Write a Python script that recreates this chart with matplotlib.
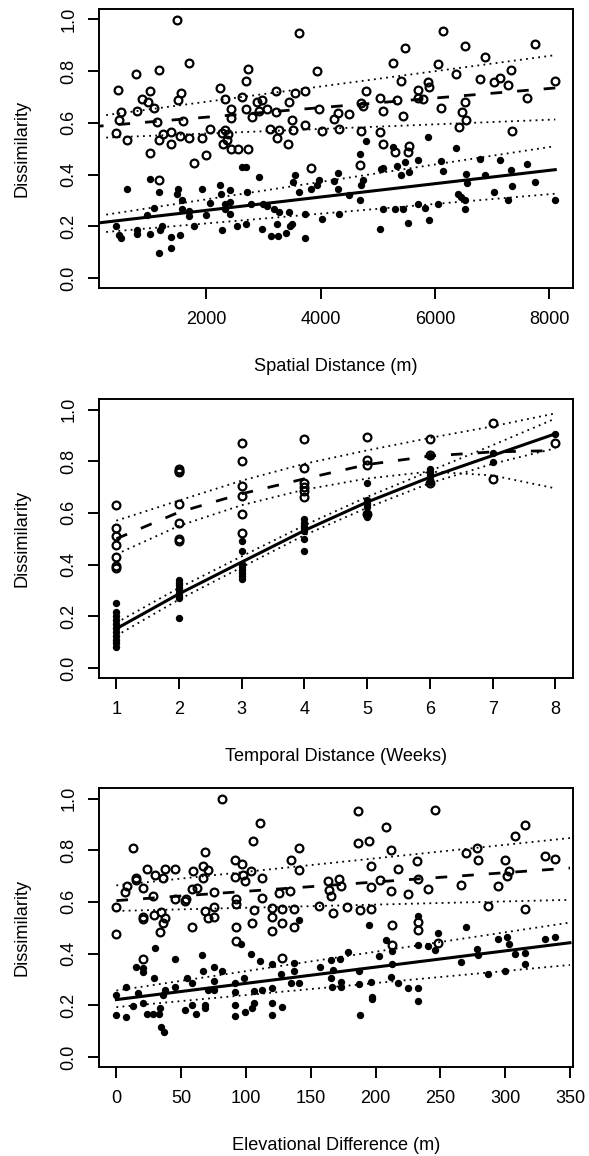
import numpy as np
import matplotlib.pyplot as plt

plt.rcParams['font.family'] = ['Liberation Sans', 'DejaVu Sans']
plt.rcParams['font.size'] = 13.1

# --- spatial distance panel ---
sp_open_x = [462, 508, 482, 430, 613, 791, 778, 876, 975, 1008, 1008, 1086, 1172, 1172, 1172,
             1139, 1244, 1382, 1389, 1494, 1507, 1560, 1547, 1593, 1698, 1698, 1790, 1921, 2000,
             2072, 2243, 2269, 2322, 2322, 2289, 2388, 2355, 2440, 2440, 2427, 2552, 2618, 2703,
             2729, 2690, 2729, 2795, 2887, 2973, 2914, 3071, 3111, 3222, 3222, 3242, 3281, 3426,
             3439, 3518, 3505, 3551, 3630, 3729, 3729, 3932, 3965, 4031, 3840, 4228, 4307, 4327,
             4491, 4714, 4714, 4734, 4688, 4800, 5043, 5043, 5095, 5095, 5260, 5293, 5339, 5411,
             5450, 5470, 5542, 5522, 5700, 5707, 5799, 5884, 5904, 6048, 6134, 6101, 6377, 6423,
             6468, 6534, 6534, 6547, 6791, 6870, 7034, 7133, 7284, 7330, 7350, 7606, 7744, 8105]
sp_open_y = [0.729, 0.643, 0.613, 0.561, 0.533, 0.646, 0.788, 0.693, 0.679, 0.724, 0.484, 0.658,
             0.806, 0.378, 0.533, 0.604, 0.556, 0.565, 0.517, 0.997, 0.690, 0.714, 0.548, 0.608,
             0.832, 0.542, 0.446, 0.542, 0.475, 0.578, 0.733, 0.561, 0.694, 0.572, 0.517, 0.556,
             0.535, 0.617, 0.655, 0.498, 0.498, 0.701, 0.763, 0.808, 0.653, 0.498, 0.621, 0.681,
             0.690, 0.646, 0.653, 0.578, 0.723, 0.643, 0.543, 0.572, 0.517, 0.681, 0.574, 0.613,
             0.714, 0.948, 0.724, 0.590, 0.800, 0.653, 0.569, 0.427, 0.614, 0.640, 0.578, 0.636,
             0.569, 0.675, 0.665, 0.436, 0.724, 0.563, 0.698, 0.645, 0.520, 0.832, 0.488, 0.688,
             0.761, 0.627, 0.888, 0.511, 0.488, 0.726, 0.698, 0.694, 0.759, 0.737, 0.826, 0.955,
             0.659, 0.788, 0.585, 0.643, 0.897, 0.681, 0.610, 0.768, 0.853, 0.759, 0.772, 0.746,
             0.806, 0.569, 0.698, 0.905, 0.761]
sp_fill_x = [430, 482, 508, 613, 791, 791, 968, 1008, 1021, 1086, 1172, 1172, 1185, 1231, 1382,
             1389, 1494, 1507, 1540, 1573, 1573, 1698, 1698, 1790, 1921, 2000, 2072, 2237, 2269,
             2256, 2322, 2335, 2414, 2414, 2414, 2545, 2618, 2703, 2716, 2697, 2782, 2927, 2973,
             2992, 3071, 3124, 3190, 3242, 3255, 3268, 3387, 3439, 3466, 3505, 3518, 3551, 3630,
             3729, 3729, 3840, 3945, 3978, 4031, 4228, 4307, 4307, 4327, 4491, 4688, 4688, 4714,
             4734, 4800, 5043, 5062, 5095, 5095, 5260, 5293, 5339, 5411, 5450, 5470, 5522, 5542,
             5700, 5707, 5818, 5884, 5904, 6048, 6101, 6134, 6377, 6410, 6462, 6534, 6547, 6534,
             6560, 6791, 6870, 7034, 7133, 7284, 7330, 7350, 7606, 7744, 8105]
sp_fill_y = [0.200, 0.165, 0.156, 0.346, 0.187, 0.172, 0.243, 0.172, 0.382, 0.272, 0.333, 0.097,
             0.187, 0.200, 0.159, 0.114, 0.326, 0.346, 0.165, 0.303, 0.268, 0.259, 0.239, 0.200,
             0.346, 0.243, 0.290, 0.359, 0.185, 0.326, 0.285, 0.268, 0.342, 0.294, 0.249, 0.200,
             0.430, 0.430, 0.333, 0.208, 0.288, 0.391, 0.191, 0.288, 0.277, 0.161, 0.268, 0.210,
             0.161, 0.255, 0.174, 0.255, 0.200, 0.208, 0.372, 0.397, 0.333, 0.156, 0.249, 0.346,
             0.359, 0.378, 0.230, 0.375, 0.406, 0.346, 0.249, 0.320, 0.479, 0.301, 0.359, 0.378,
             0.530, 0.191, 0.421, 0.265, 0.427, 0.507, 0.265, 0.432, 0.397, 0.265, 0.449, 0.213,
             0.410, 0.288, 0.458, 0.272, 0.546, 0.223, 0.285, 0.453, 0.413, 0.501, 0.326, 0.314,
             0.303, 0.401, 0.268, 0.368, 0.462, 0.397, 0.333, 0.455, 0.303, 0.419, 0.355, 0.439,
             0.372, 0.303]
sp_line_x = [0, 8105]
sp_open_fit = [0.585, 0.735]
sp_fill_fit = [0.210, 0.419]
sp_band_x = [250, 8105]
sp_open_hi = [0.630, 0.862]
sp_open_lo = [0.543, 0.613]
sp_fill_hi = [0.245, 0.510]
sp_fill_lo = [0.178, 0.326]

# --- temporal distance panel ---
tm_open_x = [1] * 7 + [2] * 7 + [3] * 6 + [4] * 6 + [5] * 4 + [6] * 3 + [7] * 2 + [8]
tm_open_y = [0.629, 0.543, 0.509, 0.477, 0.429, 0.394, 0.388,
             0.771, 0.764, 0.758, 0.636, 0.560, 0.500, 0.492,
             0.870, 0.799, 0.706, 0.667, 0.597, 0.523,
             0.887, 0.774, 0.716, 0.700, 0.684, 0.661,
             0.893, 0.803, 0.786, 0.597,
             0.887, 0.825, 0.715,
             0.948, 0.732,
             0.870]
tm_fill_x = [1] * 11 + [2] * 9 + [3] * 8 + [4] * 7 + [5] * 7 + [6] * 6 + [7] * 2 + [8]
tm_fill_y = [0.251, 0.215, 0.200, 0.185, 0.170, 0.155, 0.140, 0.125, 0.110, 0.095, 0.083,
             0.342, 0.330, 0.320, 0.310, 0.300, 0.290, 0.280, 0.272, 0.195,
             0.491, 0.452, 0.403, 0.390, 0.378, 0.368, 0.357, 0.346,
             0.575, 0.560, 0.550, 0.540, 0.530, 0.500, 0.451,
             0.715, 0.648, 0.640, 0.630, 0.622, 0.600, 0.584,
             0.822, 0.770, 0.760, 0.745, 0.730, 0.720,
             0.830, 0.795,
             0.906]
tm_line_x = [1, 2, 3, 4, 5, 6, 7, 8]
tm_open_fit = [0.500, 0.603, 0.674, 0.732, 0.787, 0.820, 0.836, 0.841]
tm_fill_fit = [0.152, 0.287, 0.410, 0.532, 0.642, 0.738, 0.822, 0.906]
tm_open_hi = [0.570, 0.648, 0.725, 0.790, 0.842, 0.890, 0.935, 0.985]
tm_open_lo = [0.440, 0.550, 0.630, 0.690, 0.733, 0.760, 0.745, 0.695]
tm_fill_hi = [0.175, 0.310, 0.432, 0.552, 0.662, 0.762, 0.862, 0.965]
tm_fill_lo = [0.125, 0.265, 0.390, 0.514, 0.620, 0.715, 0.790, 0.850]

# --- elevational difference panel ---
el_open_x = [0, 0, 6.7, 8.1, 13, 15, 15.4, 20.3, 20.3, 20.9, 20.9, 24, 28, 29, 30, 33.3, 34.8,
             35.7, 36.2, 37.7, 37.7, 45, 45, 52.8, 54, 58.6, 58.6, 59.4, 62.3, 66.7, 66.7, 68.4,
             68.7, 71, 71, 75.4, 75.4, 75.4, 81.8, 91.3, 91.3, 92.2, 92.2, 92.2, 92.2, 97, 98,
             99, 103.8, 105.8, 105, 106.4, 111, 112.2, 112.2, 120.3, 120.3, 120.3, 125.5, 127.6,
             128, 127.6, 134, 134.8, 137, 137, 140.6, 141, 156.6, 163, 164.4, 165.8, 167.3, 172,
             173.4, 178.3, 186.4, 186.4, 187.9, 195, 196.3, 196.3, 196.6, 203.5, 207.9, 211.7,
             211.7, 212.5, 212.5, 217.5, 225.3, 232, 232.5, 232.5, 232.5, 240.6, 245.6, 248, 266,
             269.6, 278.3, 279, 286.5, 294.3, 299.5, 301.5, 303, 307.3, 315.2, 315.5, 331, 338.6]
el_open_y = [0.580, 0.476, 0.640, 0.662, 0.809, 0.692, 0.684, 0.653, 0.379, 0.543, 0.533, 0.728,
             0.624, 0.550, 0.705, 0.485, 0.559, 0.692, 0.517, 0.537, 0.727, 0.727, 0.611, 0.602,
             0.611, 0.503, 0.649, 0.718, 0.653, 0.692, 0.737, 0.563, 0.792, 0.724, 0.539, 0.640,
             0.582, 0.543, 1.000, 0.763, 0.698, 0.611, 0.592, 0.502, 0.449, 0.748, 0.705, 0.679,
             0.718, 0.834, 0.520, 0.567, 0.906, 0.692, 0.617, 0.576, 0.543, 0.489, 0.636, 0.517,
             0.572, 0.384, 0.643, 0.763, 0.572, 0.501, 0.809, 0.724, 0.586, 0.679, 0.647, 0.621,
             0.556, 0.688, 0.662, 0.582, 0.951, 0.828, 0.569, 0.834, 0.740, 0.656, 0.573, 0.683,
             0.890, 0.802, 0.643, 0.511, 0.433, 0.728, 0.630, 0.757, 0.688, 0.524, 0.492, 0.649,
             0.957, 0.440, 0.666, 0.789, 0.809, 0.763, 0.586, 0.660, 0.761, 0.699, 0.718, 0.856,
             0.899, 0.572, 0.776, 0.766]
el_fill_x = [0, 0, 7.2, 7.2, 13, 15, 16.8, 20.3, 20.9, 20.9, 24, 28.4, 29, 30, 32.5, 34, 34.8,
             37, 36.2, 37.7, 45, 45, 53, 54.5, 58.6, 58.6, 61.5, 66, 66.7, 68.4, 68.7, 70.5, 75.4,
             75.4, 75.4, 81.8, 91.3, 91.3, 91.9, 91.9, 96.5, 98.6, 99, 103.8, 105, 106.4, 106.4,
             110.8, 112.2, 120.3, 120.3, 120.3, 120.3, 127, 127.6, 137, 137, 134.8, 141, 141,
             157.4, 165.3, 165.8, 166.1, 167.3, 172.5, 173.4, 173.4, 179, 187.3, 187.3, 188,
             194.8, 196.6, 197, 197, 203, 207.9, 211.7, 212.5, 212.5, 217.5, 225.3, 232.5, 232.5,
             232.5, 232.5, 240.6, 245.6, 248, 266, 269.6, 278.3, 279, 286.5, 294.3, 299.5, 301.5,
             303, 307.3, 315.2, 315.5, 331, 338.6]
el_fill_y = [0.239, 0.162, 0.272, 0.155, 0.198, 0.347, 0.246, 0.343, 0.330, 0.210, 0.168, 0.166,
             0.304, 0.420, 0.168, 0.191, 0.116, 0.097, 0.239, 0.259, 0.378, 0.272, 0.181, 0.304,
             0.287, 0.201, 0.168, 0.395, 0.334, 0.201, 0.188, 0.259, 0.349, 0.295, 0.259, 0.334,
             0.287, 0.252, 0.201, 0.158, 0.436, 0.304, 0.175, 0.397, 0.188, 0.210, 0.255, 0.373,
             0.261, 0.360, 0.265, 0.210, 0.162, 0.321, 0.194, 0.362, 0.334, 0.287, 0.285, 0.530,
             0.347, 0.375, 0.304, 0.272, 0.336, 0.378, 0.291, 0.272, 0.407, 0.334, 0.282, 0.162,
             0.511, 0.291, 0.233, 0.223, 0.391, 0.453, 0.310, 0.411, 0.358, 0.287, 0.268, 0.546,
             0.433, 0.265, 0.217, 0.429, 0.414, 0.479, 0.369, 0.501, 0.417, 0.395, 0.323, 0.455,
             0.334, 0.466, 0.437, 0.398, 0.404, 0.358, 0.455, 0.463]
el_line_x = [0, 350]
el_open_fit = [0.605, 0.731]
el_fill_fit = [0.222, 0.442]
el_open_hi = [0.664, 0.847]
el_open_lo = [0.565, 0.608]
el_fill_hi = [0.257, 0.520]
el_fill_lo = [0.193, 0.356]

panels = [
    dict(open=(sp_open_x, sp_open_y), fill=(sp_fill_x, sp_fill_y),
         fit_x=sp_line_x, open_fit=sp_open_fit, fill_fit=sp_fill_fit,
         band_x=sp_band_x, bands=[sp_open_hi, sp_open_lo, sp_fill_hi, sp_fill_lo],
         xlim=(120, 8414), xticks=[2000, 4000, 6000, 8000], xlabel='Spatial Distance (m)',
         bottom=0.7506),
    dict(open=(tm_open_x, tm_open_y), fill=(tm_fill_x, tm_fill_y),
         fit_x=tm_line_x, open_fit=tm_open_fit, fill_fit=tm_fill_fit,
         band_x=tm_line_x, bands=[tm_open_hi, tm_open_lo, tm_fill_hi, tm_fill_lo],
         xlim=(0.72, 8.28), xticks=list(range(1, 9)), xlabel='Temporal Distance (Weeks)',
         bottom=0.4132),
    dict(open=(el_open_x, el_open_y), fill=(el_fill_x, el_fill_y),
         fit_x=el_line_x, open_fit=el_open_fit, fill_fit=el_fill_fit,
         band_x=el_line_x, bands=[el_open_hi, el_open_lo, el_fill_hi, el_fill_lo],
         xlim=(-13.6, 352.3), xticks=list(range(0, 351, 50)), xlabel='Elevational Difference (m)',
         bottom=0.0767),
]

fig = plt.figure(figsize=(5.89, 11.56), dpi=100)

for p in panels:
    ax = fig.add_axes([0.1677, p['bottom'], 0.805, 0.2415])
    ax.plot(*p['open'], 'o', ms=5.6, mfc='none', mec='black', mew=1.6, clip_on=False)
    ax.plot(*p['fill'], 'o', ms=5.3, color='black', mew=0, clip_on=False)
    ax.plot(p['fit_x'], p['fill_fit'], '-', color='black', lw=2.2)
    ax.plot(p['fit_x'], p['open_fit'], color='black', lw=2.0, linestyle=(0, (4.2, 5.4)))
    for band in p['bands']:
        ax.plot(p['band_x'], band, color='black', lw=1.3, linestyle=(0, (1, 2.4)))

    ax.set_xlim(*p['xlim'])
    ax.set_ylim(-0.04, 1.04)
    ax.set_xticks(p['xticks'])
    ax.set_yticks(np.arange(0, 1.01, 0.2))
    ax.set_yticklabels(['%.1f' % v for v in np.arange(0, 1.01, 0.2)])
    for s in ax.spines.values():
        s.set_linewidth(1.4)
    ax.tick_params(length=7.7, width=1.4, labelsize=13.1)
    ax.tick_params(axis='x', pad=8.5)
    ax.tick_params(axis='y', pad=7.5, labelrotation=90)
    for lab in ax.get_yticklabels():
        lab.set_va('center')

    ax.set_xlabel(p['xlabel'], va='center')
    ax.xaxis.set_label_coords(0.5, -0.281)
    ax.set_ylabel('Dissimilarity', va='center')
    ax.yaxis.set_label_coords(-0.161, 0.5)

fig.savefig('out.png', dpi=100)
